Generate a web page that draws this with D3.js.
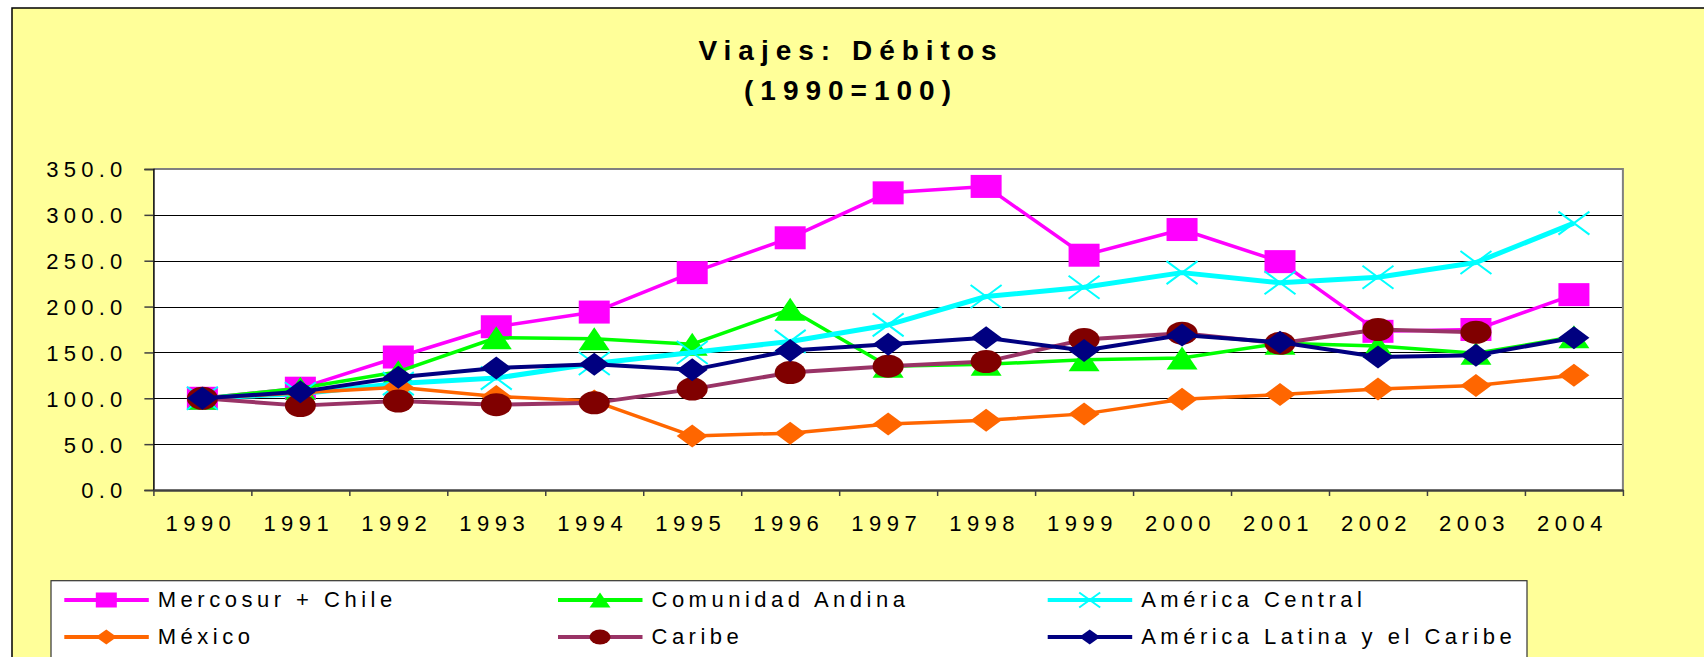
<!DOCTYPE html>
<html>
<head>
<meta charset="utf-8">
<script src="https://cdn.jsdelivr.net/npm/d3@7"></script>
<style>
  html, body { margin: 0; padding: 0; background: #ffffff; }
  svg { display: block; }
  text { font-family: "Liberation Sans", Arial, sans-serif; fill: #000; }
</style>
</head>
<body>
<svg id="chart" width="1704" height="657"></svg>
<script>
const years = ["1990","1991","1992","1993","1994","1995","1996","1997","1998","1999","2000","2001","2002","2003","2004"];
const mercosur = [100, 111, 145, 178, 194, 237, 275, 324, 331, 256, 284, 249, 173, 175, 213];
const andina   = [100, 111, 129, 166, 165, 159, 197, 135, 137, 142, 144, 160, 157, 149, 167];
const central  = [100, 105, 116, 122, 138, 150, 162, 180, 211, 221, 237, 226, 232, 248, 291];
const mexico   = [100, 106, 112, 102, 97, 59, 62, 72, 76, 83, 99, 104, 110, 114, 125];
const caribe   = [100, 92, 97, 93, 95, 110, 128, 135, 140, 164, 171, 160, 175, 172, null];
const latam    = [100, 107, 123, 133, 137, 131, 152, 159, 166, 152, 169, 161, 145, 147, 166];
const seriesNames = ["Mercosur + Chile","Comunidad Andina","América Central","México","Caribe","América Latina y el Caribe"];
const yTicks = [0, 50, 100, 150, 200, 250, 300, 350];
const titleLines = ["Viajes: Débitos", "(1990=100)"];

const series = [
  {name: seriesNames[0], values: mercosur, line: "#FF00FF", fill: "#FF00FF", marker: "square", width: 3.5},
  {name: seriesNames[1], values: andina,   line: "#00FF00", fill: "#00FF00", marker: "triangle", width: 3.5},
  {name: seriesNames[2], values: central,  line: "#00FFFF", fill: "#00FFFF", marker: "x", width: 5},
  {name: seriesNames[3], values: mexico,   line: "#FF6600", fill: "#FF6600", marker: "diamond", width: 3.5},
  {name: seriesNames[4], values: caribe,   line: "#993366", fill: "#800000", marker: "circle", width: 4},
  {name: seriesNames[5], values: latam,    line: "#000080", fill: "#000080", marker: "diamond", width: 4}
];

const svg = d3.select("#chart");
const W = 1704, H = 657;
const P = {left: 153.4, right: 1622.9, top: 169, bottom: 490};

// outer chart area
svg.append("rect").attr("x", 12).attr("y", 8).attr("width", W + 20).attr("height", H + 40)
  .attr("fill", "#FFFF99").attr("stroke", "#000").attr("stroke-width", 1.5);

// title
const title = svg.append("g");
titleLines.forEach((t, i) => {
  title.append("text").attr("x", 851).attr("y", 60 + i * 40)
    .attr("text-anchor", "middle").attr("font-size", 28).attr("font-weight", "bold")
    .attr("letter-spacing", 7).text(t);
});

const x = d3.scaleBand().domain(years).range([P.left, P.right]).padding(0);
const xi = d3.scaleLinear().domain([0, years.length]).range([P.left, P.right]);
const y = d3.scaleLinear().domain([0, 350]).range([P.bottom, P.top]);

// plot background
svg.append("rect").attr("x", P.left).attr("y", P.top)
  .attr("width", P.right - P.left).attr("height", P.bottom - P.top).attr("fill", "#fff");

// gridlines
svg.append("g").selectAll("line").data(yTicks.filter(v => v > 0 && v < 350)).join("line")
  .attr("x1", P.left).attr("x2", P.right)
  .attr("y1", d => Math.round(y(d)) + 0.5).attr("y2", d => Math.round(y(d)) + 0.5)
  .attr("stroke", "#000").attr("stroke-width", 1);

// plot border top/right
svg.append("path")
  .attr("d", `M${P.left},${P.top}H${P.right}V${P.bottom}`)
  .attr("fill", "none").attr("stroke", "#808080").attr("stroke-width", 2);

// y axis
const yAxis = svg.append("g").attr("transform", `translate(${P.left},0)`)
  .call(d3.axisLeft(y).tickValues(yTicks).tickFormat(d3.format(".1f")).tickSize(9).tickPadding(0));
yAxis.select(".domain").attr("stroke", "#000").attr("stroke-width", 1.5);
yAxis.selectAll(".tick line").attr("stroke", "#404040").attr("stroke-width", 1.5);
yAxis.selectAll(".tick text").attr("x", -26).attr("dy", "0.36em")
  .attr("font-size", 22).attr("letter-spacing", 5.2).attr("font-family", "Liberation Sans, Arial, sans-serif").attr("fill", "#000");

// x axis: ticks at category boundaries
const xTickAxis = svg.append("g").attr("transform", `translate(0,${P.bottom})`)
  .call(d3.axisBottom(xi).tickValues(d3.range(0, years.length + 1)).tickFormat("").tickSize(6).tickSizeOuter(0));
xTickAxis.select(".domain").attr("stroke", "#404040").attr("stroke-width", 2.5);
xTickAxis.selectAll(".tick line").attr("stroke", "#404040").attr("stroke-width", 1.5);

const xLab = svg.append("g").attr("transform", `translate(0,${P.bottom})`)
  .call(d3.axisBottom(x).tickSize(0).tickPadding(0));
xLab.select(".domain").remove();
xLab.selectAll(".tick text").attr("y", 41).attr("dy", 0).attr("dx", -1.5)
  .attr("font-size", 22).attr("letter-spacing", 5.5).attr("font-family", "Liberation Sans, Arial, sans-serif").attr("fill", "#000");

// marker drawing
function drawMarker(g, type, fill, hw, hh) {
  if (type === "square") {
    g.append("rect").attr("x", -hw).attr("y", -hh).attr("width", 2 * hw).attr("height", 2 * hh).attr("fill", fill);
  } else if (type === "triangle") {
    g.append("path").attr("d", `M0,${-hh}L${hw},${hh}L${-hw},${hh}Z`).attr("fill", fill);
  } else if (type === "diamond") {
    g.append("path").attr("d", `M0,${-hh}L${hw},0L0,${hh}L${-hw},0Z`).attr("fill", fill);
  } else if (type === "circle") {
    g.append("ellipse").attr("rx", hw).attr("ry", hh).attr("fill", fill);
  } else if (type === "x") {
    g.append("path").attr("d", `M${-hw},${-hh}L${hw},${hh}M${-hw},${hh}L${hw},${-hh}`)
      .attr("stroke", fill).attr("stroke-width", 2).attr("fill", "none");
  }
}

const cx = (d, i) => x(years[i]) + x.bandwidth() / 2;
const line = d3.line().defined(d => d != null).x((d, i) => cx(d, i)).y(d => y(d));

series.forEach(s => {
  const g = svg.append("g");
  g.append("path").attr("d", line(s.values)).attr("fill", "none")
    .attr("stroke", s.line).attr("stroke-width", s.width).attr("stroke-linejoin", "round");
  s.values.forEach((v, i) => {
    if (v == null) return;
    const m = g.append("g").attr("transform", `translate(${cx(v, i)},${y(v)})`);
    drawMarker(m, s.marker, s.fill, 15.5, 11.5);
  });
});

// legend
const legend = svg.append("g");
legend.append("rect").attr("x", 51).attr("y", 580.7).attr("width", 1476).attr("height", 120)
  .attr("fill", "#fff").attr("stroke", "#333").attr("stroke-width", 1.2);
const colX = [64.3, 558, 1047.7];
const rowY = [600, 637];
series.forEach((s, k) => {
  const col = k % 3, row = Math.floor(k / 3);
  const x0 = colX[col], yy = rowY[row];
  const g = legend.append("g");
  g.append("line").attr("x1", x0).attr("x2", x0 + 84.5).attr("y1", yy).attr("y2", yy)
    .attr("stroke", s.line).attr("stroke-width", 4);
  const m = g.append("g").attr("transform", `translate(${x0 + 42},${yy})`);
  drawMarker(m, s.marker, s.fill, 10.5, 7.5);
  g.append("text").attr("x", x0 + 93.5).attr("y", yy + 6.7)
    .attr("font-size", 22).attr("letter-spacing", 4.5).text(s.name);
});
</script>
</body>
</html>
